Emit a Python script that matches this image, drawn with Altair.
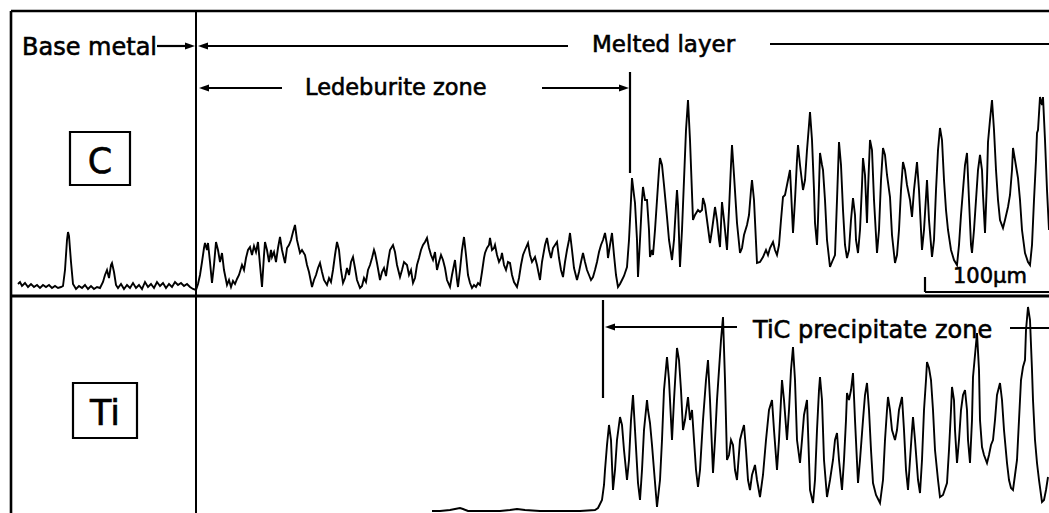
import altair as alt
import pandas as pd

W = 1049
H = 513

# ---- C line-scan trace: scan position and signal row ----
c_pos = [18, 20, 22, 25, 28, 31, 34, 37, 40, 43, 46, 49, 52, 55, 58, 61, 63, 65, 67, 68, 69, 71, 73, 76, 79, 82, 85, 88, 91, 94, 97, 100,
         103, 105, 107, 109, 111, 112, 114, 116, 118, 121, 124, 127, 130, 133, 136, 139, 142, 145, 148, 151, 154, 157, 160, 163, 166,
         169, 172, 175, 178, 181, 184, 187, 190, 193,
         196, 198, 200, 202, 204, 205, 207, 208, 210, 212, 214, 216, 218, 220, 222, 224, 227, 229, 231, 233, 235, 237, 239, 242, 244,
         246, 248, 250, 252, 254, 256, 258, 260, 262, 264, 265, 267, 269, 271, 272, 274, 276, 278, 280, 282, 285, 287, 289, 291, 293,
         295, 297, 300, 302, 305, 307, 309, 312, 314, 316, 318, 320, 322, 324, 327, 329, 331, 333, 335, 337, 339, 341, 343, 345, 347,
         349, 351, 353, 355, 357, 360, 362, 364, 366, 368, 370, 372, 374, 375, 377, 380, 382, 384, 386, 388, 390, 393, 395, 397, 400,
         402, 404, 407, 409, 411, 413, 415, 417, 419, 421, 423, 425, 427, 429, 431, 433, 435, 437, 439, 441, 443, 445, 447, 450, 452,
         455, 457, 458, 460, 462, 464, 466, 468, 470, 472, 474, 476, 478, 480, 482, 484, 485, 487, 489, 490, 492, 494, 495, 497, 499,
         501, 502, 504, 506, 508, 510, 512, 514, 517, 519, 521, 523, 525, 528, 530, 532, 535, 537, 539, 540, 542, 545, 547, 549, 551,
         553, 555, 557, 559, 561, 563, 565, 567, 569, 570, 572, 574, 577, 579, 581, 583, 585, 587, 589, 591, 593, 595, 597, 599, 601,
         603, 605, 607, 608, 610, 612, 614, 616, 618, 620, 622, 624, 627, 629, 631, 632, 634, 635, 637, 638, 640, 642, 643, 645, 647,
         649, 650, 652, 653, 655, 657, 659, 660, 662, 664, 667, 669, 672, 674, 676, 677, 678, 680, 682, 684, 686, 688, 690, 693, 695,
         698, 700, 702, 703, 705, 707, 710, 712, 714, 715, 717, 719, 720, 722, 724, 727, 729, 731, 732, 734, 737, 740, 742, 744, 747,
         749, 751, 752, 754, 757, 760, 763, 766, 768, 770, 773, 775, 777, 779, 781, 783, 785, 787, 790, 791, 793, 795, 797, 798, 800,
         803, 805, 807, 809, 810, 812, 814, 815, 817, 818, 820, 822, 823, 825, 827, 830, 832, 835, 837, 839, 841, 843, 845, 847, 849,
         851, 853, 855, 856, 858, 860, 862, 863, 865, 867, 868, 870, 872, 874, 877, 879, 881, 883, 885, 887, 890, 892, 895, 897, 899,
         901, 903, 905, 907, 910, 912, 914, 917, 919, 922, 924, 927, 929, 932, 934, 936, 938, 940, 942, 944, 946, 948, 951, 954, 957,
         959, 961, 963, 965, 967, 969, 971, 972, 974, 976, 978, 980, 982, 983, 985, 987, 988, 990, 992, 994, 996, 998, 1000, 1003,
         1005, 1008, 1010, 1012, 1013, 1015, 1017, 1018, 1020, 1022, 1025, 1028, 1030, 1032, 1034, 1036, 1037, 1038, 1040, 1042,
         1043, 1045, 1047, 1049]
c_row = [284, 282, 286, 283, 287, 284, 287, 285, 288, 285, 287, 285, 288, 286, 288, 287, 286, 270, 240, 232, 236, 262, 284, 289, 286, 288, 285, 289, 286, 289, 287, 288,
         282, 275, 270, 278, 265, 263, 272, 285, 288, 284, 289, 285, 288, 283, 288, 285, 289, 282, 287, 284, 288, 282, 286, 283, 288,
         284, 287, 282, 285, 283, 286, 284, 287, 289,
         290, 284, 275, 262, 248, 243, 250, 243, 262, 283, 265, 242, 250, 262, 253, 270, 285, 280, 287, 281, 284, 279, 275, 265, 270,
         258, 250, 247, 255, 246, 252, 242, 265, 287, 255, 242, 250, 262, 250, 257, 252, 262, 248, 237, 250, 263, 248, 245, 240, 232,
         225, 240, 253, 250, 255, 265, 272, 287, 280, 275, 268, 263, 272, 280, 285, 278, 282, 270, 255, 242, 250, 270, 283, 278, 268,
         275, 262, 257, 268, 280, 288, 286, 278, 282, 270, 265, 258, 250, 253, 263, 280, 272, 268, 276, 262, 250, 245, 252, 265, 277,
         270, 262, 265, 275, 270, 283, 278, 265, 258, 250, 245, 242, 238, 248, 255, 260, 252, 270, 262, 255, 260, 268, 280, 287, 275,
         260, 280, 287, 270, 250, 237, 255, 275, 283, 288, 285, 287, 283, 285, 272, 258, 253, 248, 245, 238, 250, 248, 245, 255, 262,
         258, 253, 265, 270, 262, 263, 275, 282, 287, 278, 265, 255, 250, 243, 255, 262, 257, 265, 275, 280, 262, 245, 238, 250, 258,
         248, 245, 242, 258, 270, 277, 262, 250, 240, 233, 250, 268, 280, 272, 262, 253, 262, 270, 275, 280, 277, 270, 262, 252, 245,
         240, 233, 245, 258, 245, 233, 255, 275, 287, 284, 280, 276, 267, 240, 200, 178, 195, 203, 240, 277, 240, 200, 187, 200, 200,
         230, 257, 250, 255, 230, 200, 170, 158, 165, 185, 217, 240, 260, 240, 205, 190, 205, 267, 230, 180, 130, 100, 140, 220, 215,
         210, 212, 210, 198, 205, 220, 243, 230, 215, 207, 220, 240, 247, 202, 220, 250, 210, 165, 145, 175, 223, 253, 248, 235, 225,
         215, 190, 180, 200, 263, 262, 257, 250, 255, 248, 242, 250, 255, 245, 220, 197, 195, 185, 170, 190, 233, 200, 160, 145, 165,
         190, 180, 150, 125, 112, 140, 190, 223, 245, 220, 153, 165, 170, 200, 240, 267, 262, 255, 200, 142, 165, 210, 245, 258, 250,
         220, 198, 215, 240, 253, 230, 185, 158, 175, 223, 190, 140, 150, 200, 253, 230, 180, 148, 155, 175, 197, 235, 263, 255, 230,
         190, 162, 170, 185, 200, 217, 190, 162, 190, 250, 230, 180, 220, 257, 240, 190, 150, 128, 140, 180, 210, 230, 250, 260, 265,
         245, 215, 190, 165, 153, 200, 245, 253, 230, 200, 170, 155, 170, 195, 233, 180, 142, 120, 100, 130, 170, 200, 220, 228,
         220, 207, 195, 170, 148, 160, 172, 178, 200, 230, 253, 262, 265, 245, 200, 160, 133, 130, 97, 105,
         97, 140, 190, 230]

# ---- Ti line-scan trace ----
ti_pos = [432, 440, 450, 455, 460, 463, 468, 480, 500, 510, 517, 525, 540, 560, 580, 595, 598, 600, 602, 604, 605, 607, 609, 611, 613,
          615, 617, 620, 622, 624, 627, 629, 631, 633, 635, 638, 640, 642, 644, 647, 648, 650, 652, 654, 657, 660, 662, 664, 667, 669,
          672, 674, 677, 679, 681, 683, 685, 688, 690, 692, 694, 696, 698, 700, 703, 706, 708, 710, 713, 715, 717, 719, 721, 723, 725,
          727, 729, 731, 733, 735, 737, 740, 742, 744, 746, 748, 750, 752, 755, 757, 760, 763, 766, 769, 772, 774, 777, 779, 781, 782,
          784, 787, 789, 791, 793, 795, 797, 800, 802, 804, 807, 808, 810, 813, 815, 817, 819, 820, 822, 824, 827, 830, 833, 835, 837,
          839, 842, 844, 846, 847, 849, 851, 853, 855, 858, 860, 863, 865, 867, 869, 871, 873, 876, 880, 883, 885, 887, 888, 890, 892,
          895, 897, 899, 902, 904, 906, 908, 910, 912, 913, 915, 918, 920, 922, 924, 926, 927, 929, 931, 933, 935, 938, 940, 943, 947,
          949, 951, 952, 954, 955, 957, 959, 961, 963, 965, 967, 968, 970, 972, 973, 975, 977, 979, 980, 982, 984, 987, 989, 991, 993,
          995, 997, 1000, 1002, 1004, 1007, 1009, 1011, 1013, 1015, 1017, 1019, 1021, 1023, 1025, 1026, 1028, 1030, 1032, 1033, 1035,
          1037, 1039, 1042, 1044, 1046, 1048]
ti_row = [511, 511, 510, 509, 508, 509, 511, 511, 511, 510, 509, 510, 511, 511, 511, 510, 508, 504, 500, 485, 470, 445, 425, 440, 490,
          470, 440, 417, 425, 450, 480, 460, 420, 395, 430, 483, 500, 470, 430, 400, 410, 423, 445, 470, 507, 480, 440, 390, 357, 380,
          440, 400, 348, 360, 390, 430, 420, 397, 420, 410, 440, 470, 487, 470, 420, 380, 360, 400, 473, 440, 400, 370, 340, 317, 380,
          460, 455, 440, 445, 470, 480, 440, 432, 425, 450, 480, 490, 475, 465, 480, 497, 475, 440, 410, 400, 430, 470, 440, 400, 380,
          400, 440, 410, 370, 347, 380, 440, 463, 440, 415, 400, 430, 490, 503, 480, 430, 390, 377, 400, 460, 497, 480, 460, 440, 433,
          460, 490, 460, 420, 393, 400, 390, 373, 420, 483, 460, 420, 395, 383, 410, 450, 483, 495, 503, 480, 440, 410, 397, 410, 430,
          440, 430, 410, 397, 430, 470, 490, 460, 430, 417, 440, 480, 493, 460, 410, 380, 362, 368, 380, 410, 450, 480, 497, 495, 483,
          450, 410, 387, 400, 430, 463, 440, 410, 395, 390, 410, 440, 463, 420, 377, 355, 333, 370, 420, 447, 455, 463, 455, 445, 440,
          420, 395, 383, 400, 430, 463, 480, 488, 490, 475, 460, 420, 380, 367, 360, 330, 307, 320, 370, 400, 440,
          463, 480, 502, 500, 490, 477]

c_df = pd.DataFrame({"pos": c_pos, "level": [H - r for r in c_row]})
ti_df = pd.DataFrame({"pos": ti_pos, "level": [H - r for r in ti_row]})

# ---- annotation geometry (picture units: x from left, row from top) ----
frame_lines = [  # x, x2, row, row2, width
    (11, 11, 11, 513, 2.6), (11, 1049, 11, 11, 2.4), (11, 1049, 296, 296, 2.8), (196, 196, 11, 513, 2.0),
]
guide_lines = [
    (157, 188, 46, 46), (204, 568, 46, 46), (770, 1049, 44, 44),
    (206, 282, 88, 88), (542, 621, 88, 88), (630, 630, 72, 173),
    (613, 737, 327, 327), (1010, 1049, 328, 328), (603, 603, 300, 398),
    (925, 925, 277, 292), (925, 1049, 292, 292),
]
arrow_right = [(195, 46), (629, 88)]
arrow_left = [(198, 46), (199, 88), (605, 327)]
labels_left = [  # text, x, baseline row, size
    ("Base metal", 22, 55, 24), ("Melted layer", 592, 52, 23), ("Ledeburite zone", 305, 95, 22.5),
    ("TiC precipitate zone", 753, 338, 24), ("100\u03bcm", 953, 283, 21),
]
labels_center = [("C", 100, 173, 35), ("Ti", 105, 425, 35)]
boxes = [(70, 130, 132, 185), (73, 137, 383, 438)]

xs = alt.Scale(domain=[0, W], nice=False, zero=False)
ys = alt.Scale(domain=[0, H], nice=False, zero=False)
X = lambda f: alt.X(f, type="quantitative", scale=xs, axis=None)
Y = lambda f: alt.Y(f, type="quantitative", scale=ys, axis=None)

fl = pd.DataFrame([{"x": a, "x2": b, "y": H - r, "y2": H - r2, "w": w} for a, b, r, r2, w in frame_lines])
gl = pd.DataFrame([{"x": a, "x2": b, "y": H - r, "y2": H - r2} for a, b, r, r2 in guide_lines])
ar = pd.DataFrame([{"x": a, "y": H - r} for a, r in arrow_right])
al = pd.DataFrame([{"x": a, "y": H - r} for a, r in arrow_left])
tl = pd.DataFrame([{"t": t, "x": a, "y": H - r, "s": s} for t, a, r, s in labels_left])
tc = pd.DataFrame([{"t": t, "x": a, "y": H - r, "s": s} for t, a, r, s in labels_center])
bx = pd.DataFrame([{"x": a, "x2": b, "y": H - r, "y2": H - r2} for a, b, r, r2 in boxes])

frame = alt.Chart(fl).mark_rule(color="black").encode(
    x=X("x"), x2="x2", y=Y("y"), y2="y2", strokeWidth=alt.StrokeWidth("w:Q", scale=None))
guides = alt.Chart(gl).mark_rule(color="black", strokeWidth=2.2).encode(x=X("x"), x2="x2", y=Y("y"), y2="y2")
heads_r = alt.Chart(ar).mark_point(shape="M0,0L-2,-0.7L-2,0.7Z", filled=True, color="black", size=100, opacity=1).encode(
    x=X("x"), y=Y("y"))
heads_l = alt.Chart(al).mark_point(shape="M0,0L2,-0.7L2,0.7Z", filled=True, color="black", size=100, opacity=1).encode(
    x=X("x"), y=Y("y"))
text_l = alt.Chart(tl).mark_text(align="left", baseline="alphabetic", font="DejaVu Sans", color="black",
                                 stroke="black", strokeWidth=0.6).encode(
    x=X("x"), y=Y("y"), text="t:N", size=alt.Size("s:Q", scale=None))
text_c = alt.Chart(tc).mark_text(align="center", baseline="alphabetic", font="DejaVu Sans", color="black",
                                 stroke="black", strokeWidth=0.6).encode(
    x=X("x"), y=Y("y"), text="t:N", size=alt.Size("s:Q", scale=None))
box = alt.Chart(bx).mark_rect(filled=False, stroke="black", strokeWidth=2.2).encode(
    x=X("x"), x2="x2", y=Y("y"), y2="y2")
c_line = alt.Chart(c_df).mark_line(color="black", strokeWidth=1.9, interpolate="linear").encode(
    x=X("pos"), y=Y("level"), order="pos:Q")
ti_line = alt.Chart(ti_df).mark_line(color="black", strokeWidth=1.9, interpolate="linear").encode(
    x=X("pos"), y=Y("level"), order="pos:Q")

chart = alt.layer(frame, guides, c_line, ti_line, heads_r, heads_l, box, text_l, text_c).properties(
    width=W, height=H, padding=0, autosize=alt.AutoSizeParams(type="none"), background="white"
).configure_view(stroke=None)

chart.save("out.html", embed_options={"renderer": "svg", "actions": False})
